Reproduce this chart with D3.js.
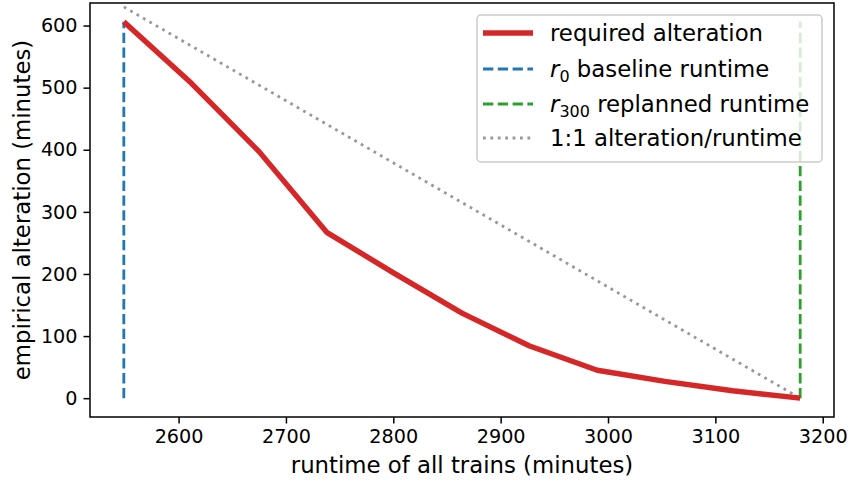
<!DOCTYPE html>
<html><head><meta charset="utf-8">
<script src="https://cdn.jsdelivr.net/npm/d3@7"></script>
<style>body{margin:0;background:#fff}svg{display:block;font-family:"DejaVu Sans",sans-serif}</style>
</head><body><svg id="c" width="850" height="481"></svg>
<script>
const runtime = [2549, 2612, 2675, 2738, 2801, 2864, 2927, 2990, 3053, 3116, 3179];
const alteration = [606, 507, 397, 267, 201, 137, 84, 45, 27, 12, 0];
const r0 = 2549;
const r300 = 3179;
const xTicks = [2600, 2700, 2800, 2900, 3000, 3100, 3200];
const yTicks = [0, 100, 200, 300, 400, 500, 600];

const svg = d3.select("#c");
const L = 90, R = 834, T = 3, B = 417;
const x = d3.scaleLinear().domain([2517.5, 3210.5]).range([L, R]);
const y = d3.scaleLinear().domain([-30.3, 636.3]).range([B, T]);

const g = svg.append("g");
g.append("path").datum([[r0, r300 - r0], [r300, 0]])
  .attr("d", d3.line().x(d => x(d[0])).y(d => y(d[1])))
  .attr("stroke", "#999").attr("stroke-width", 2.8).attr("stroke-dasharray", "2.8,4.6").attr("fill", "none");
const vmax = d3.max(alteration);
g.append("line").attr("x1", x(r0)).attr("x2", x(r0)).attr("y1", y(0)).attr("y2", y(vmax))
  .attr("stroke", "#1f77b4").attr("stroke-width", 2.8).attr("stroke-dasharray", "10.3,4.5");
g.append("line").attr("x1", x(r300)).attr("x2", x(r300)).attr("y1", y(0)).attr("y2", y(vmax))
  .attr("stroke", "#2ca02c").attr("stroke-width", 2.8).attr("stroke-dasharray", "10.3,4.5");
g.append("path").datum(runtime.map((r, i) => [r, alteration[i]]))
  .attr("d", d3.line().x(d => x(d[0])).y(d => y(d[1])))
  .attr("stroke", "#d62728").attr("stroke-width", 5.4).attr("fill", "none").attr("stroke-linejoin", "round");

const xa = svg.append("g").attr("transform", `translate(0,${B})`)
  .call(d3.axisBottom(x).tickValues(xTicks).tickSize(6.5).tickPadding(6).tickFormat(d3.format("d")));
const ya = svg.append("g").attr("transform", `translate(${L},0)`)
  .call(d3.axisLeft(y).tickValues(yTicks).tickSize(6.5).tickPadding(6).tickFormat(d3.format("d")));
[xa, ya].forEach(a => {
  a.select(".domain").remove();
  a.selectAll("line").attr("stroke", "#000").attr("stroke-width", 1.5);
  a.selectAll("text").attr("font-family", "DejaVu Sans").attr("font-size", 19.2).attr("fill", "#000");
});
svg.append("rect").attr("x", L).attr("y", T).attr("width", R - L).attr("height", B - T)
  .attr("fill", "none").attr("stroke", "#000").attr("stroke-width", 1.5);

svg.append("text").attr("x", (L + R) / 2).attr("y", 473).attr("text-anchor", "middle")
  .attr("font-size", 22.8).text("runtime of all trains (minutes)");
svg.append("text").attr("transform", `translate(30,${(T + B) / 2}) rotate(-90)`).attr("text-anchor", "middle")
  .attr("font-size", 22.8).text("empirical alteration (minutes)");

const lg = svg.append("g");
lg.append("rect").attr("x", 477).attr("y", 15).attr("width", 345).attr("height", 147).attr("rx", 4)
  .attr("fill", "#fff").attr("fill-opacity", 0.8).attr("stroke", "#cccccc").attr("stroke-width", 1.5);
const items = [
  {c: "#d62728", w: 5.4, dash: null, label: [["required alteration"]]},
  {c: "#1f77b4", w: 2.8, dash: "10.3,4.5", label: [["r", "it"], ["0", "sub"], [" baseline runtime"]]},
  {c: "#2ca02c", w: 2.8, dash: "10.3,4.5", label: [["r", "it"], ["300", "sub"], [" replanned runtime"]]},
  {c: "#999", w: 2.8, dash: "2.8,4.6", label: [["1:1 alteration/runtime"]]}
];
const rowY = [33, 69, 104, 138];
items.forEach((it, i) => {
  const yy = rowY[i];
  const ln = lg.append("line").attr("x1", 483).attr("x2", 533).attr("y1", yy).attr("y2", yy)
    .attr("stroke", it.c).attr("stroke-width", it.w);
  if (it.dash) ln.attr("stroke-dasharray", it.dash);
  const t = lg.append("text").attr("x", 550).attr("y", yy + 8).attr("font-size", 22.8);
  it.label.forEach(p => {
    const s = t.append("tspan").text(p[0]);
    if (p[1] === "it") s.attr("font-style", "italic");
    if (p[1] === "sub") s.attr("font-size", 16).attr("dy", 4.5);
    if (p[1] === undefined && p !== it.label[0]) s.attr("dy", -4.5);
  });
});
</script></body></html>
